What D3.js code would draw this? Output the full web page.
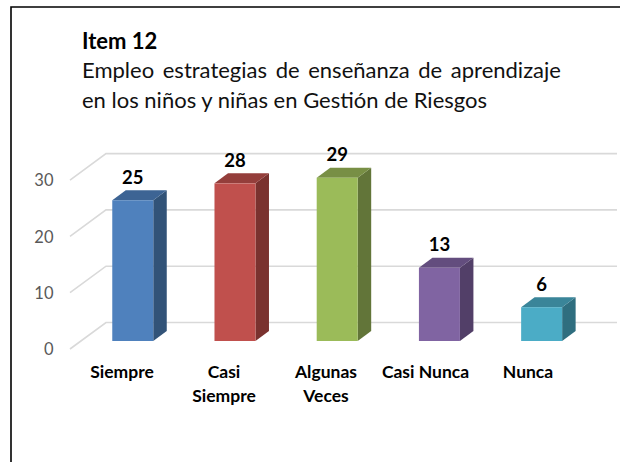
<!DOCTYPE html>
<html><head><meta charset="utf-8">
<script src="https://cdn.jsdelivr.net/npm/d3@7"></script>
<style>html,body{margin:0;padding:0;background:#fff}svg{display:block}text{font-family:Lato,"Open Sans",sans-serif}</style>
</head><body><svg id="c" width="620" height="462"></svg>
<script>
const categories=["Siempre","Casi Siempre","Algunas Veces","Casi Nunca","Nunca"];
const categoryLines=[["Siempre"],["Casi","Siempre"],["Algunas","Veces"],["Casi Nunca"],["Nunca"]];
const values=[25,28,29,13,6];
const tickValues=[0,10,20,30];
const frontColors=["#4f81bd","#c0504d","#9bbb59","#8064a2","#4bacc6"];
const topColors=["#3d6494","#943e3b","#788f45","#634d7e","#3a8599"];
const sideColors=["#325378","#7a322f","#627539","#523f68","#2f6e7f"];
const svg=d3.select("#c");
const dx=13.5,dy=-10;
const x=d3.scaleBand().domain(categories).range([81.6,592.8]).paddingInner(0.599).paddingOuter(0.3);
const y=d3.scaleLinear().domain([0,30]).range([341,172.1]);
const backX=106,backOff=-18.5,frontX=70,frontOff=8;
svg.append("path").attr("d","M11,462V7H620").attr("fill","none").attr("stroke","#000").attr("stroke-width",1.6);
const g=svg.append("g");
g.selectAll("path.grid").data(tickValues).join("path").attr("class","grid")
 .attr("d",d=>`M${frontX},${y(d)+frontOff}L${backX},${y(d)+backOff}H617`)
 .attr("fill","none").attr("stroke","#d9d9d9").attr("stroke-width",1.6);
g.selectAll("text.tick").data(tickValues).join("text").attr("class","tick")
 .attr("x",53.5).attr("y",d=>y(d)+14.3).attr("text-anchor","end")
 .attr("font-size",16.5).attr("fill","#595959").text(d=>d);
const bars=g.selectAll("g.bar").data(values).join("g").attr("class","bar");
bars.append("path").attr("fill",(d,i)=>sideColors[i]).attr("d",(d,i)=>{
 const r=x(categories[i])+x.bandwidth();
 return `M${r},${y(d)}l${dx},${dy}V${y(0)+dy}L${r},${y(0)}Z`;});
bars.append("path").attr("fill",(d,i)=>topColors[i]).attr("d",(d,i)=>{
 const l=x(categories[i]);
 return `M${l},${y(d)}l${dx},${dy}h${x.bandwidth()}l${-dx},${-dy}Z`;});
bars.append("rect").attr("fill",(d,i)=>frontColors[i])
 .attr("x",(d,i)=>x(categories[i])).attr("y",d=>y(d))
 .attr("width",x.bandwidth()).attr("height",d=>y(0)-y(d));
bars.append("text").attr("x",(d,i)=>x(categories[i])+x.bandwidth()/2).attr("y",d=>y(d)-16.5)
 .attr("text-anchor","middle").attr("font-size",18.5).attr("font-weight",700).attr("fill","#000").text(d=>d);
const labelCenters=[122,224,326,425.5,528];
const lab=g.selectAll("text.cat").data(categoryLines).join("text").attr("class","cat")
 .attr("text-anchor","middle").attr("font-size",17.5).attr("font-weight",700).attr("fill","#000");
lab.selectAll("tspan").data((d,i)=>d.map(t=>({t,i}))).join("tspan")
 .attr("x",d=>labelCenters[d.i]).attr("y",(d,j)=>378+j*23.7).text(d=>d.t);
const title=svg.append("g");
title.append("text").attr("x",82).attr("y",49).attr("font-size",22).attr("font-weight",700).text("Item 12");
title.append("text").attr("x",82).attr("y",78).attr("font-size",22).attr("word-spacing",3).attr("fill","#111").text("Empleo estrategias de enseñanza de aprendizaje");
title.append("text").attr("x",82).attr("y",108).attr("font-size",22).attr("fill","#111").text("en los niños y niñas en Gestión de Riesgos");
</script></body></html>
